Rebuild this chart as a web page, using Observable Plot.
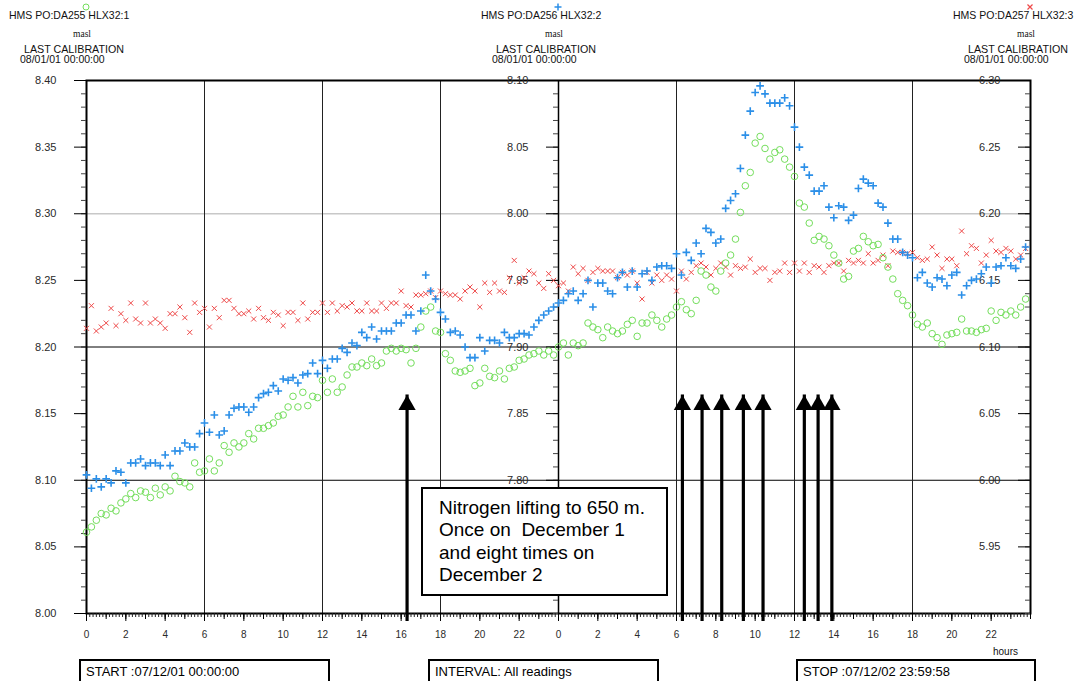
<!DOCTYPE html>
<html>
<head>
<meta charset="utf-8">
<script src="https://cdn.jsdelivr.net/npm/d3@7"></script>
<script src="https://cdn.jsdelivr.net/npm/@observablehq/plot@0.6"></script>
<style>
  body { margin: 0; background: #fff; font-family: "Liberation Sans", Arial, sans-serif; }
  #wrap { position: relative; width: 1088px; height: 681px; overflow: hidden; background: #fff; }
  #wrap > svg { position: absolute; left: 0; top: 0; }
  .abs { position: absolute; white-space: nowrap; color: #111; }
  .hms { font-size: 10.5px; line-height: 12px; }
  .masl { font-family: "Liberation Serif", "DejaVu Serif", serif; font-size: 9.5px; line-height: 11px; transform: translateX(-50%); }
  .cal { font-size: 10.7px; line-height: 12px; }
  .date { font-size: 10.5px; line-height: 12px; }
  .note { box-sizing: border-box; border: 2px solid #000; background: #fff;
          font-size: 19px; line-height: 22.3px; padding: 8px 0 0 16px; color: #000; }
  .foot { box-sizing: border-box; border: 2.5px solid #000; background: #fff; height: 40px;
          font-size: 13px; line-height: 18px; padding: 2px 0 0 5px; color: #000; }
</style>
</head>
<body>
<div id="wrap"></div>
<script>
// ---- data: levels every 15 minutes from 07/12/01 00:00 to 07/12/02 23:45 ----
const hours = d3.range(0, 48, 0.25);

// HMS PO:DA255 HLX32:1 (masl) - left axis
const da255 = [
  8.061, 8.065, 8.070, 8.075, 8.074, 8.079, 8.077, 8.083, 8.086, 8.090, 8.087, 8.092,
  8.091, 8.087, 8.094, 8.089, 8.095, 8.092, 8.103, 8.099, 8.098, 8.095, 8.113, 8.106,
  8.107, 8.116, 8.107, 8.113, 8.126, 8.121, 8.128, 8.125, 8.128, 8.135, 8.131, 8.139,
  8.139, 8.141, 8.143, 8.148, 8.149, 8.155, 8.163, 8.155, 8.166, 8.156, 8.163, 8.162,
  8.175, 8.166, 8.176, 8.166, 8.170, 8.179, 8.185, 8.185, 8.188, 8.186, 8.191, 8.186,
  8.188, 8.197, 8.199, 8.197, 8.199, 8.198, 8.188, 8.199, 8.215, 8.227, 8.230, 8.212,
  8.211, 8.195, 8.190, 8.182, 8.181, 8.182, 8.184, 8.171, 8.173, 8.184, 8.178, 8.177,
  8.182, 8.176, 8.184, 8.185, 8.190, 8.191, 8.194, 8.195, 8.197, 8.194, 8.197, 8.194,
  8.200, 8.203, 8.194, 8.203, 8.201, 8.203, 8.218, 8.215, 8.213, 8.207, 8.215, 8.212,
  8.210, 8.212, 8.217, 8.220, 8.208, 8.218, 8.218, 8.224, 8.220, 8.215, 8.221, 8.224,
  8.230, 8.234, 8.228, 8.225, 8.235, 8.257, 8.254, 8.245, 8.242, 8.257, 8.263, 8.269,
  8.281, 8.301, 8.321, 8.331, 8.353, 8.358, 8.349, 8.341, 8.346, 8.348, 8.341, 8.335,
  8.328, 8.308, 8.305, 8.293, 8.280, 8.283, 8.281, 8.276, 8.269, 8.263, 8.251, 8.253,
  8.272, 8.274, 8.283, 8.279, 8.276, 8.277, 8.267, 8.260, 8.251, 8.240, 8.235, 8.231,
  8.224, 8.217, 8.215, 8.218, 8.210, 8.207, 8.202, 8.209, 8.210, 8.211, 8.221, 8.212,
  8.212, 8.211, 8.213, 8.214, 8.227, 8.220, 8.226, 8.224, 8.227, 8.224, 8.230, 8.236
];

// HMS PO:DA256 HLX32:2 (masl) - middle axis
const da256 = [
  7.804, 7.794, 7.801, 7.795, 7.801, 7.798, 7.807, 7.806, 7.798, 7.813, 7.813, 7.816,
  7.811, 7.813, 7.813, 7.811, 7.819, 7.811, 7.822, 7.822, 7.828, 7.825, 7.825, 7.835,
  7.843, 7.836, 7.849, 7.834, 7.837, 7.849, 7.854, 7.855, 7.855, 7.851, 7.855, 7.862,
  7.865, 7.866, 7.871, 7.867, 7.876, 7.875, 7.877, 7.873, 7.879, 7.880, 7.888, 7.880,
  7.890, 7.884, 7.891, 7.891, 7.899, 7.896, 7.903, 7.901, 7.911, 7.907, 7.915, 7.906,
  7.912, 7.912, 7.912, 7.918, 7.918, 7.924, 7.924, 7.912, 7.927, 7.954, 7.942, 7.936,
  7.926, 7.921, 7.911, 7.912, 7.909, 7.900, 7.892, 7.892, 7.907, 7.897, 7.905, 7.905,
  7.903, 7.911, 7.907, 7.907, 7.910, 7.910, 7.909, 7.915, 7.920, 7.924, 7.927, 7.930,
  7.933, 7.935, 7.940, 7.942, 7.935, 7.940, 7.950, 7.930, 7.948, 7.948, 7.942, 7.940,
  7.952, 7.956, 7.945, 7.957, 7.945, 7.955, 7.957, 7.950, 7.960, 7.961, 7.961, 7.959,
  7.970, 7.954, 7.971, 7.965, 7.978, 7.970, 7.989, 7.986, 7.978, 7.981, 8.004, 8.010,
  8.015, 8.034, 8.059, 8.077, 8.091, 8.096, 8.090, 8.083, 8.083, 8.083, 8.087, 8.081,
  8.065, 8.050, 8.035, 8.029, 8.017, 8.017, 8.021, 8.005, 7.997, 8.006, 8.005, 7.995,
  7.999, 8.019, 8.026, 8.023, 8.021, 8.008, 8.005, 7.993, 7.981, 7.981, 7.971, 7.969,
  7.967, 7.952, 7.956, 7.948, 7.945, 7.952, 7.951, 7.946, 7.954, 7.956, 7.939, 7.946,
  7.950, 7.951, 7.955, 7.960, 7.948, 7.960, 7.961, 7.967, 7.961, 7.959, 7.966, 7.975
];

// HMS PO:DA257 HLX32:3 (masl) - right axis
const da257 = [
  6.114, 6.131, 6.112, 6.115, 6.118, 6.129, 6.116, 6.125, 6.120, 6.133, 6.121, 6.118,
  6.133, 6.118, 6.121, 6.118, 6.114, 6.125, 6.125, 6.130, 6.122, 6.111, 6.133, 6.126,
  6.129, 6.115, 6.129, 6.122, 6.135, 6.135, 6.129, 6.125, 6.125, 6.127, 6.121, 6.129,
  6.122, 6.120, 6.126, 6.124, 6.116, 6.126, 6.126, 6.120, 6.133, 6.121, 6.126, 6.126,
  6.133, 6.126, 6.133, 6.127, 6.131, 6.130, 6.133, 6.127, 6.127, 6.133, 6.127, 6.127,
  6.133, 6.129, 6.133, 6.133, 6.142, 6.131, 6.130, 6.139, 6.139, 6.140, 6.142, 6.137,
  6.142, 6.140, 6.139, 6.139, 6.136, 6.142, 6.145, 6.142, 6.130, 6.148, 6.141, 6.148,
  6.142, 6.141, 6.152, 6.165, 6.148, 6.152, 6.157, 6.155, 6.148, 6.144, 6.155, 6.150,
  6.146, 6.148, 6.142, 6.160, 6.155, 6.159, 6.150, 6.156, 6.159, 6.157, 6.157, 6.157,
  6.152, 6.156, 6.154, 6.157, 6.148, 6.136, 6.156, 6.148, 6.154, 6.150, 6.154, 6.151,
  6.142, 6.157, 6.151, 6.156, 6.161, 6.163, 6.160, 6.154, 6.159, 6.163, 6.160, 6.154,
  6.161, 6.159, 6.160, 6.166, 6.156, 6.159, 6.159, 6.150, 6.156, 6.157, 6.163, 6.156,
  6.163, 6.157, 6.163, 6.156, 6.161, 6.160, 6.156, 6.161, 6.163, 6.163, 6.157, 6.165,
  6.163, 6.165, 6.163, 6.170, 6.163, 6.165, 6.169, 6.161, 6.172, 6.171, 6.171, 6.170,
  6.171, 6.167, 6.165, 6.166, 6.175, 6.169, 6.159, 6.166, 6.166, 6.161, 6.187, 6.170,
  6.176, 6.174, 6.163, 6.169, 6.180, 6.172, 6.171, 6.174, 6.172, 6.166, 6.169, 6.174
];

// axis ranges and tick labels (each axis spans 0.40 m)
const leftBase = 8.00, middleBase = 7.70, rightBase = 5.90, span = 0.40;
const leftTicks = [8.00, 8.05, 8.10, 8.15, 8.20, 8.25, 8.30, 8.35, 8.40];
const middleTicks = [7.80, 7.85, 7.90, 7.95, 8.00, 8.05, 8.10];
const rightTicks = [5.95, 6.00, 6.05, 6.10, 6.15, 6.20, 6.25, 6.30];
const hourTicks = d3.range(0, 48, 2);
const gridHours = [6, 12, 18, 30, 36, 42];
const gridLevelsDark = [8.10, 8.20];
const gridLevelsLight = [8.30];

// nitrogen lifting events (hours since 07/12/01 00:00)
const liftHours = [16.3, 30.3, 31.3, 32.3, 33.4, 34.4, 36.5, 37.2, 37.9];
const liftArrowTop = 8.164;

const series = [
  {name: "HMS PO:DA255 HLX32:1", values: da255, base: leftBase, color: "#74de5c", symbol: "circle", frac: 0},
  {name: "HMS PO:DA256 HLX32:2", values: da256, base: middleBase, color: "#2b8fe8", symbol: "plus", frac: 0.5},
  {name: "HMS PO:DA257 HLX32:3", values: da257, base: rightBase, color: "#ee4848", symbol: "times", frac: 1}
];
const rows = s => s.values.map((v, i) => ({t: hours[i], level: v - s.base + leftBase}));

// ---- layout ----
const W = 1088, H = 681, mL = 86, mR = 58, mT = 80, mB = 68;
const innerW = W - mL - mR;

const toMiddle = v => v - middleBase + leftBase;
const toRight = v => v - rightBase + leftBase;
const minor = (lo) => d3.range(0, 41).map(i => leftBase + i * 0.01);

const axisFont = {fontSize: 11, fill: "#2a2a2a", stroke: "#000", label: null};

const chart = Plot.plot({
  width: W, height: H,
  marginLeft: mL, marginRight: mR, marginTop: mT, marginBottom: mB,
  x: {domain: [0, 48]},
  y: {domain: [leftBase, leftBase + span]},
  style: {background: "white", fontFamily: "'Liberation Sans', Arial, sans-serif", fontSize: "11px", color: "#000"},
  marks: [
    Plot.ruleY(gridLevelsLight, {stroke: "#c8c8c8", strokeWidth: 1.5}),
    Plot.ruleY(gridLevelsDark, {stroke: "#000", strokeWidth: 1}),
    Plot.ruleX(gridHours, {stroke: "#222", strokeWidth: 1}),
    Plot.ruleX([24], {stroke: "#000", strokeWidth: 1.5}),
    Plot.frame({stroke: "#000", strokeWidth: 2}),

    // left axis (DA255)
    Plot.axisY({anchor: "left", ticks: minor(), tickSize: 5, fill: "none", stroke: "#444", label: null}),
    Plot.axisY({anchor: "left", ticks: leftTicks, tickSize: 12, tickPadding: 18,
      tickFormat: d => d.toFixed(2), ...axisFont}),

    // middle axis (DA256)
    Plot.axisY({anchor: "left", dx: innerW / 2, ticks: minor(), tickSize: 5, fill: "none", stroke: "#444", label: null}),
    Plot.axisY({anchor: "left", dx: innerW / 2, ticks: middleTicks.map(toMiddle), tickSize: 12, tickPadding: 18,
      tickFormat: d => (d - leftBase + middleBase).toFixed(2), ...axisFont}),

    // right axis (DA257)
    Plot.axisY({anchor: "left", dx: innerW, ticks: minor(), tickSize: 5, fill: "none", stroke: "#444", label: null}),
    Plot.axisY({anchor: "left", dx: innerW, ticks: rightTicks.map(toRight), tickSize: 12, tickPadding: 18,
      tickFormat: d => (d - leftBase + rightBase).toFixed(2), ...axisFont}),

    // time axis: 10-minute ticks, labelled every 2 hours
    Plot.axisX({anchor: "bottom", ticks: d3.range(0, 48.001, 1 / 6), tickSize: 4, fill: "none", stroke: "#222", label: null}),
    Plot.axisX({anchor: "bottom", ticks: d3.range(0, 49, 1), tickSize: 6, fill: "none", stroke: "#000", label: null}),
    Plot.axisX({anchor: "bottom", ticks: hourTicks, tickSize: 8, tickPadding: 9,
      tickFormat: d => String(d % 24), fontSize: 10, fill: "#2a2a2a", stroke: "#000", label: null}),

    // readings
    Plot.dot(rows(series[2]), {x: "t", y: "level", symbol: "times", stroke: series[2].color, r: 2.4, strokeWidth: 1}),
    Plot.dot(rows(series[0]), {x: "t", y: "level", symbol: "circle", stroke: series[0].color, fill: "none", r: 3.3, strokeWidth: 1}),
    Plot.dot(rows(series[1]), {x: "t", y: "level", symbol: "plus", stroke: series[1].color, r: 2.6, strokeWidth: 1.6}),

    // nitrogen lifting arrows
    Plot.ruleX(liftHours, {x: d => d, y1: leftBase, y2: liftArrowTop, stroke: "#000", strokeWidth: 3.2, insetTop: 8}),
    Plot.dot(liftHours, {x: d => d, y: () => liftArrowTop, symbol: "triangle", fill: "#000", stroke: "none", r: 6.4, dy: 10})
  ]
});

const wrap = document.getElementById("wrap");
wrap.appendChild(chart);

// ---- series headers above each axis ----
const markerSvg = s => {
  const c = s.color;
  const shape = s.symbol === "circle"
    ? `<circle r="3" fill="none" stroke="${c}" stroke-width="1"/>`
    : s.symbol === "plus"
      ? `<path d="M-3.5,0H3.5M0,-3.5V3.5" stroke="${c}" stroke-width="1.5"/>`
      : `<path d="M-2.5,-2.5L2.5,2.5M-2.5,2.5L2.5,-2.5" stroke="${c}" stroke-width="1.2"/>`;
  return `<svg width="12" height="12" viewBox="-6 -6 12 12">${shape}</svg>`;
};

series.forEach(s => {
  const ax = mL + innerW * s.frac;
  const add = (cls, left, top, html) => {
    const el = document.createElement("div");
    el.className = "abs " + cls;
    el.style.left = left + "px";
    el.style.top = top + "px";
    el.innerHTML = html;
    wrap.appendChild(el);
  };
  add("", ax - 6, -1, markerSvg(s));
  add("hms", ax - 77, 9, s.name);
  add("masl", ax - 4, 29, "masl");
  add("cal", ax - 62, 43, "LAST CALIBRATION");
  add("date", ax - 66, 53, "08/01/01 00:00:00");
});

// ---- annotations ----
const addBox = (cls, left, top, width, height, html) => {
  const el = document.createElement("div");
  el.className = "abs " + cls;
  el.style.left = left + "px";
  el.style.top = top + "px";
  el.style.width = width + "px";
  if (height) el.style.height = height + "px";
  el.innerHTML = html;
  wrap.appendChild(el);
};
addBox("note", 421, 487, 247, 109,
  "Nitrogen lifting to 650 m.<br>Once on&nbsp; December 1<br>and eight times on<br>December 2");
addBox("", 993, 641, 40, 0, '<span style="font-size:10px;line-height:12px">hours</span>');
addBox("foot", 79, 659, 251, 0, "START :07/12/01 00:00:00");
addBox("foot", 428, 659, 231, 0, "INTERVAL: All readings");
addBox("foot", 796, 659, 240, 0, "STOP :07/12/02 23:59:58");
</script>
</body>
</html>
